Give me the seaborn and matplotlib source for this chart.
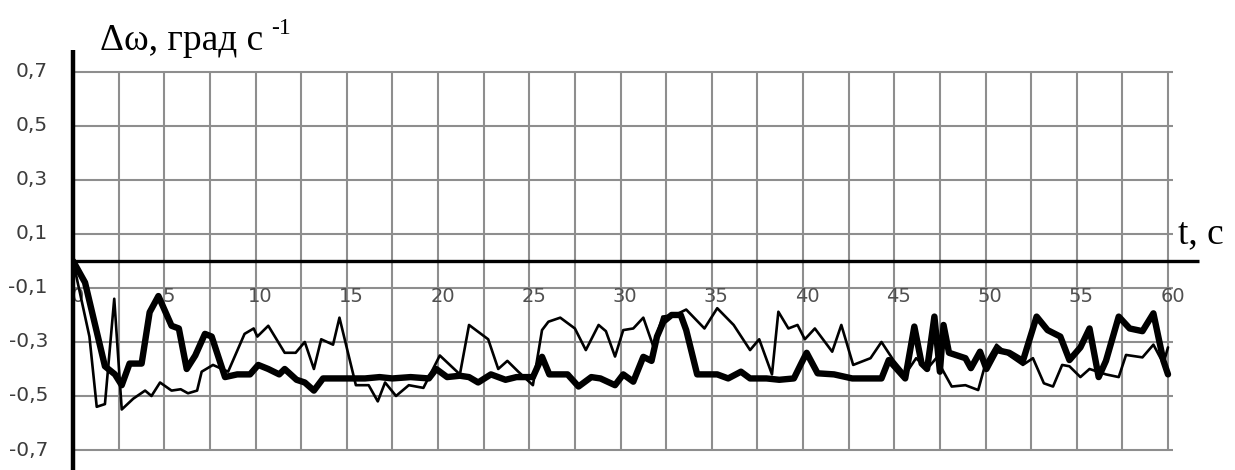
import matplotlib
matplotlib.use("Agg")
import matplotlib.pyplot as plt
import seaborn as sns
import pandas as pd
import numpy as np

# ---- data ----
t_thick = [0, 0.66, 1.75, 2.3, 2.67, 3.1, 3.76, 4.2, 4.68, 5.4, 5.8, 6.23, 6.7, 7.23, 7.6,
           8.33, 9.0, 9.7, 10.15, 10.7, 11.3, 11.6, 12.25, 12.7, 13.2, 13.7, 15.0, 16.0,
           16.8, 17.5, 18.5, 19.5, 19.9, 20.5, 21.2, 21.7, 22.2, 22.9, 23.7, 24.3, 25.2,
           25.7, 26.1, 27.1, 27.7, 28.4, 28.9, 29.7, 30.15, 30.7, 31.25, 31.7, 32.0, 32.35,
           32.8, 33.3, 33.6, 34.2, 35.3, 35.9, 36.6, 37.1, 38.0, 38.7, 39.5, 39.9, 40.2,
           40.8, 41.7, 42.7, 44.3, 44.7, 45.6, 46.1, 46.5, 46.8, 47.2, 47.5, 47.7, 48.0,
           48.9, 49.2, 49.7, 50.05, 50.6, 51.3, 52.05, 52.8, 53.4, 54.1, 54.6, 55.2, 55.7,
           56.2, 56.6, 57.3, 57.9, 58.6, 59.2, 59.75, 60.0]
w_thick = [0.0, -0.08, -0.39, -0.42, -0.46, -0.38, -0.38, -0.19, -0.13, -0.24, -0.25, -0.40,
           -0.35, -0.27, -0.28, -0.43, -0.42, -0.42, -0.385, -0.40, -0.42, -0.40, -0.44, -0.45,
           -0.48, -0.435, -0.435, -0.435, -0.43, -0.435, -0.43, -0.435, -0.40, -0.43, -0.425,
           -0.43, -0.45, -0.42, -0.44, -0.43, -0.43, -0.355, -0.42, -0.42, -0.465, -0.43,
           -0.435, -0.46, -0.42, -0.447, -0.355, -0.37, -0.28, -0.225, -0.20, -0.20, -0.256,
           -0.42, -0.42, -0.435, -0.41, -0.435, -0.435, -0.44, -0.435, -0.38, -0.34, -0.416,
           -0.42, -0.435, -0.435, -0.367, -0.435, -0.243, -0.38, -0.40, -0.206, -0.41, -0.237,
           -0.34, -0.36, -0.397, -0.336, -0.40, -0.33, -0.34, -0.37, -0.206, -0.256, -0.28,
           -0.367, -0.32, -0.25, -0.43, -0.37, -0.206, -0.25, -0.26, -0.194, -0.37, -0.42]

t_thin = [0, 0.9, 1.3, 1.75, 2.26, 2.67, 3.3, 3.95, 4.3, 4.77, 5.4, 5.9, 6.3, 6.8, 7.05, 7.67,
          8.5, 9.4, 9.9, 10.1, 10.7, 11.6, 12.2, 12.7, 13.2, 13.6, 14.25, 14.6, 15.5, 16.2,
          16.7, 17.1, 17.7, 18.4, 19.2, 20.1, 21.2, 21.7, 22.75, 23.3, 23.8, 24.4, 25.2,
          25.7, 26.05, 26.7, 27.5, 28.1, 28.8, 29.2, 29.7, 30.15, 30.7, 31.25, 31.8, 32.3,
          33.0, 33.6, 34.6, 35.3, 36.2, 37.1, 37.6, 38.3, 38.65, 39.2, 39.7, 40.1, 40.65,
          41.6, 42.1, 42.75, 43.7, 44.3, 44.95, 45.6, 46.2, 46.8, 47.3, 47.7, 48.15, 48.9,
          49.6, 50.0, 50.6, 51.3, 52.05, 52.6, 53.2, 53.7, 54.2, 54.6, 55.2, 55.7, 56.6,
          57.3, 57.7, 58.6, 59.2, 59.75, 60.0]
w_thin = [0.0, -0.28, -0.54, -0.53, -0.14, -0.55, -0.51, -0.48, -0.50, -0.45, -0.48, -0.475,
          -0.49, -0.48, -0.41, -0.385, -0.41, -0.27, -0.25, -0.28, -0.24, -0.34, -0.34, -0.30,
          -0.40, -0.29, -0.31, -0.21, -0.46, -0.46, -0.52, -0.45, -0.50, -0.46, -0.47, -0.35,
          -0.42, -0.237, -0.29, -0.40, -0.37, -0.41, -0.46, -0.256, -0.225, -0.21, -0.25,
          -0.33, -0.237, -0.26, -0.354, -0.256, -0.25, -0.21, -0.317, -0.206, -0.20, -0.18,
          -0.25, -0.175, -0.237, -0.33, -0.29, -0.42, -0.188, -0.25, -0.237, -0.29, -0.25,
          -0.336, -0.237, -0.385, -0.36, -0.30, -0.367, -0.42, -0.36, -0.40, -0.36, -0.41,
          -0.465, -0.46, -0.478, -0.38, -0.31, -0.35, -0.385, -0.36, -0.453, -0.465, -0.385,
          -0.39, -0.43, -0.40, -0.42, -0.43, -0.348, -0.357, -0.31, -0.38, -0.32]

y_ticks = [0.7, 0.5, 0.3, 0.1, -0.1, -0.3, -0.5, -0.7]
y_tick_labels = ["0,7", "0,5", "0,3", "0,1", "-0,1", "-0,3", "-0,5", "-0,7"]
x_ticks = [0, 5, 10, 15, 20, 25, 30, 35, 40, 45, 50, 55, 60]
x_tick_labels = [str(v) for v in x_ticks]
y_label = "Δω, град с"
y_label_sup = "-1"
x_label = "t, c"

# ---- figure ----
sns.set_style("white")
plt.rcParams["font.family"] = ["DejaVu Sans"]

W, H = 1235, 470
fig = plt.figure(figsize=(W / 100, H / 100), dpi=100)
x0_px, x1_px, top_px = 73, 1200, 50
ax = fig.add_axes([x0_px / W, 0.0, (x1_px - x0_px) / W, (H - top_px) / H])
px_per_t = (1168 - 73) / 60.0
ax.set_xlim(0, (x1_px - x0_px) / px_per_t)
ax.set_ylim(-0.774, 0.781)
ax.axis("off")

grid_c = "#8e8e8e"
# vertical grid
for g in np.arange(2.5, 60.01, 2.5):
    ax.plot([g, g], [-0.7, 0.7], color=grid_c, lw=1.5, zorder=1, solid_capstyle="butt")
# horizontal grid
for g in y_ticks:
    ax.plot([0, 60.3], [g, g], color=grid_c, lw=1.5, zorder=1, solid_capstyle="butt")

# axes lines
ax.plot([0, 61.7], [0, 0], color="black", lw=2.4, zorder=2, solid_capstyle="butt")
ax.plot([0, 0], [-0.8, 0.781], color="black", lw=3.2, zorder=5, clip_on=False,
        solid_capstyle="butt")

# data
df_thin = pd.DataFrame({"t": t_thin, "w": w_thin})
df_thick = pd.DataFrame({"t": t_thick, "w": w_thick})
sns.lineplot(data=df_thin, x="t", y="w", ax=ax, color="black", lw=1.9, sort=False,
             estimator=None, zorder=3)
sns.lineplot(data=df_thick, x="t", y="w", ax=ax, color="black", lw=4.6, sort=False,
             estimator=None, zorder=4)
ax.axis("off")

# tick labels
for v, lab in zip(y_ticks, y_tick_labels):
    ax.text(-1.37, v, lab, ha="right", va="center", fontsize=14.5, color="#3c3c3c",
            clip_on=False)
for v, lab in zip(x_ticks, x_tick_labels):
    ax.text(v + 0.25, -0.132, lab, ha="center", va="center", fontsize=14, color="#505050",
            clip_on=False, zorder=2)

# axis titles
serif = ["Liberation Serif", "DejaVu Serif"]
fig.text(100 / W, 1 - 50 / H, y_label, family=serif, fontsize=27, ha="left",
         va="baseline", color="black")
fig.text(271 / W, 1 - 34 / H, y_label_sup, family=serif, fontsize=17, ha="left",
         va="baseline", color="black")
fig.text(1178 / W, 1 - 243 / H, x_label, family=serif, fontsize=27, ha="left",
         va="baseline", color="black")

fig.savefig("out.png", dpi=100, facecolor="white")
